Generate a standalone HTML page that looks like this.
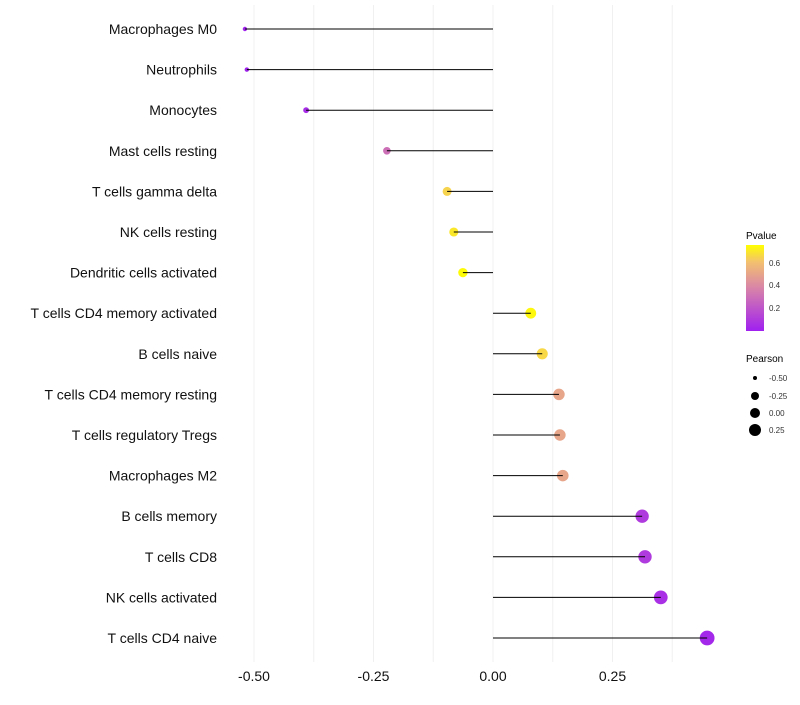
<!DOCTYPE html>
<html><head><meta charset="utf-8"><style>
body{margin:0;background:#fff;font-family:"Liberation Sans",sans-serif}
</style></head><body>
<svg id="chart" width="800" height="700" xmlns="http://www.w3.org/2000/svg" font-family="Liberation Sans, sans-serif">
<defs><linearGradient id="pg" x1="0" y1="1" x2="0" y2="0">
<stop offset="0" stop-color="#a020f0"/><stop offset="0.5" stop-color="#d884a8"/><stop offset="0.8" stop-color="#f3c070"/><stop offset="1" stop-color="#ffff00"/></linearGradient></defs>
<g id="grid"></g><g id="marks"></g><g id="stems"></g><g id="labels"></g>
<g>
<text x="746" y="239" font-size="10">Pvalue</text>
<rect x="746" y="245" width="18" height="86" fill="url(#pg)"/>
<text x="769" y="266" font-size="8" fill="#333">0.6</text>
<text x="769" y="288" font-size="8" fill="#333">0.4</text>
<text x="769" y="311" font-size="8" fill="#333">0.2</text>
</g>
<g>
<text x="746" y="362" font-size="10">Pearson</text>
<circle cx="755" cy="378" r="2"/><text x="769" y="381" font-size="8" fill="#333">-0.50</text>
<circle cx="755" cy="396" r="4"/><text x="769" y="399" font-size="8" fill="#333">-0.25</text>
<circle cx="755" cy="413" r="5"/><text x="769" y="416" font-size="8" fill="#333">0.00</text>
<circle cx="755" cy="430" r="6"/><text x="769" y="433" font-size="8" fill="#333">0.25</text>
</g>
</svg>
<script>
const categories=["Macrophages M0","Neutrophils","Monocytes","Mast cells resting","T cells gamma delta","NK cells resting","Dendritic cells activated","T cells CD4 memory activated","B cells naive","T cells CD4 memory resting","T cells regulatory  Tregs ","Macrophages M2","B cells memory","T cells CD8","NK cells activated","T cells CD4 naive"];
const pearson=[-0.519,-0.515,-0.391,-0.222,-0.096,-0.082,-0.063,0.079,0.103,0.138,0.140,0.146,0.312,0.318,0.351,0.448];
const pvalues=[0.01,0.01,0.05,0.3,0.65,0.7,0.75,0.74,0.66,0.5,0.5,0.5,0.1,0.1,0.06,0.03];
const ticks=[-0.5,-0.25,0,0.25];
const tickLabels=["-0.50","-0.25","0.00","0.25"];
const NS="http://www.w3.org/2000/svg";
const x=v=>493+v*478;
const y=i=>29+i*40.6;
function mk(t,a,p){const e=document.createElementNS(NS,t);for(const k in a)e.setAttribute(k,a[k]);p.appendChild(e);return e;}
function col(p){const s=[[0,[160,32,240]],[0.38,[216,132,168]],[0.6,[243,192,112]],[0.76,[255,255,0]]];
 p=Math.max(0,Math.min(0.76,p));for(let k=1;k<s.length;k++){if(p<=s[k][0]){const f=(p-s[k-1][0])/(s[k][0]-s[k-1][0]);const a=s[k-1][1],b=s[k][1];return`rgb(${a.map((c,j)=>Math.round(c+(b[j]-c)*f)).join(",")})`;}}return"rgb(255,255,0)";}
const grid=document.getElementById('grid'),marks=document.getElementById('marks'),stems=document.getElementById('stems'),labels=document.getElementById('labels');
for(let v=-0.5;v<=0.38;v+=0.125){const l=mk('line',{x1:x(v),x2:x(v),y1:5,y2:662,stroke:'#f0f0f0','stroke-width':1},grid);

}
ticks.forEach((t,i)=>{const e=mk('text',{x:x(t),y:681,'font-size':14,'text-anchor':'middle',fill:'#111'},labels);e.textContent=tickLabels[i];

});
categories.forEach((c,i)=>{
 const e=mk('text',{x:217,y:y(i)+5,'font-size':14,'text-anchor':'end',fill:'#111'},labels);e.textContent=c;
 
 
 const r=2.2+(pearson[i]+0.52)/0.97*5.2;
 const d=mk('circle',{cx:x(pearson[i]),cy:y(i),r:r,fill:col(pvalues[i])},marks);
 
 
 const l=mk('line',{x1:x(0),x2:x(pearson[i]),y1:y(i),y2:y(i),stroke:'#000','stroke-width':1},stems);
 
 
});
</script>
</body></html>
